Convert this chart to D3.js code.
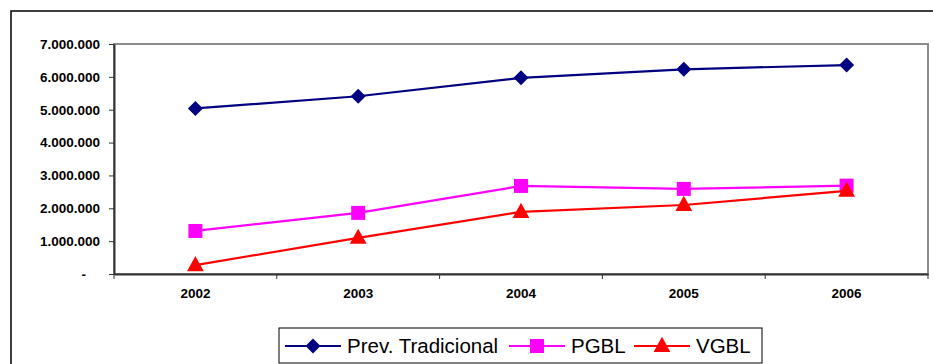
<!DOCTYPE html>
<html><head><meta charset="utf-8">
<script src="https://cdn.jsdelivr.net/npm/d3@7"></script>
<style>body{margin:0;background:#fff}svg{display:block}</style>
</head><body>
<svg id="c" width="933" height="364"></svg>
<script>
const years = ["2002","2003","2004","2005","2006"];
const prevTradicional = [5040000, 5410000, 5970000, 6230000, 6360000];
const pgbl = [1310000, 1860000, 2680000, 2590000, 2690000];
const vgbl = [270000, 1100000, 1890000, 2100000, 2530000];
const yTicks = [0, 1000000, 2000000, 3000000, 4000000, 5000000, 6000000, 7000000];
const seriesNames = ["Prev. Tradicional", "PGBL", "VGBL"];
const seriesColors = ["#000080", "#FF00FF", "#FF0000"];
const seriesSymbols = ["diamond", "square", "triangle"];

const svg = d3.select("#c");
const L = 114, R = 928, T = 44, B = 274;
const x = d3.scaleBand().domain(years).range([L, R]).padding(0);
const y = d3.scaleLinear().domain([0, 7000000]).range([B, T]);

// outer frame
svg.append("rect").attr("x", 11).attr("y", 11).attr("width", 940).attr("height", 400)
  .attr("fill", "none").attr("stroke", "#000").attr("stroke-width", 1.5);

// plot area border (gray)
svg.append("rect").attr("x", L).attr("y", T).attr("width", R - L).attr("height", B - T)
  .attr("fill", "none").attr("stroke", "#8c8c8c").attr("stroke-width", 2);

const fmt = v => v === 0 ? "-" : d3.format(",")(v).replace(/,/g, ".");
const FONT = "Liberation Sans, Arial, sans-serif";

// y axis
const ya = svg.append("g").attr("transform", `translate(${L},0)`)
  .call(d3.axisLeft(y).tickValues(yTicks).tickSize(5).tickSizeOuter(0).tickPadding(9).tickFormat(fmt));
ya.select(".domain").attr("stroke", "#333").attr("stroke-width", 2);
ya.selectAll(".tick line").attr("stroke", "#333").attr("stroke-width", 1);
ya.selectAll(".tick text").attr("font-family", FONT)
  .attr("font-weight", "bold").attr("font-size", 13.5).attr("fill", "#000");
ya.selectAll(".tick").filter(d => d === 0).select("text").attr("dx", -14);

// x axis
const xa = svg.append("g").attr("transform", `translate(0,${B})`)
  .call(d3.axisBottom(x).tickSize(0).tickPadding(14));
xa.select(".domain").attr("stroke", "#333").attr("stroke-width", 2);
xa.selectAll(".tick text").attr("font-family", FONT)
  .attr("font-weight", "bold").attr("font-size", 13.5).attr("fill", "#000");
// boundary tick marks
const bounds = years.map(d => x(d)).concat([R]);
svg.append("g").selectAll("line").data(bounds).join("line")
  .attr("x1", d => d).attr("x2", d => d).attr("y1", B).attr("y2", B + 5)
  .attr("stroke", "#333").attr("stroke-width", 1);

const cx = d => x(d) + x.bandwidth() / 2;
const symGen = {
  diamond: s => `M0,${-s}L${s},0L0,${s}L${-s},0Z`,
  square: s => `M${-s},${-s}H${s}V${s}H${-s}Z`,
  triangle: s => `M0,${-s * 1.15}L${s * 1.05},${s * 0.75}L${-s * 1.05},${s * 0.75}Z`
};
const symSize = {diamond: 7.5, square: 7, triangle: 8};

const data = [prevTradicional, pgbl, vgbl];
data.forEach((vals, i) => {
  const pts = years.map((yr, j) => [cx(yr), y(vals[j])]);
  svg.append("path").attr("d", d3.line()(pts)).attr("fill", "none")
    .attr("stroke", seriesColors[i]).attr("stroke-width", 2.2);
  svg.append("g").selectAll("path").data(pts).join("path")
    .attr("transform", d => `translate(${d[0]},${d[1]})`)
    .attr("d", symGen[seriesSymbols[i]](symSize[seriesSymbols[i]]))
    .attr("fill", seriesColors[i]);
});

// legend
const lg = svg.append("g");
lg.append("rect").attr("x", 279).attr("y", 328).attr("width", 483).attr("height", 35)
  .attr("fill", "#fff").attr("stroke", "#000").attr("stroke-width", 1);
const legX = [285, 509, 634];
const textX = [347, 571, 696];
seriesNames.forEach((n, i) => {
  const ly = 346;
  lg.append("line").attr("x1", legX[i]).attr("x2", legX[i] + 56).attr("y1", ly).attr("y2", ly)
    .attr("stroke", seriesColors[i]).attr("stroke-width", 2.2);
  lg.append("path").attr("transform", `translate(${legX[i] + 28},${ly})`)
    .attr("d", symGen[seriesSymbols[i]](symSize[seriesSymbols[i]]))
    .attr("fill", seriesColors[i]);
  lg.append("text").attr("x", textX[i]).attr("y", 352.5)
    .attr("font-family", FONT).attr("font-size", 20.5)
    .attr("fill", "#000").text(n);
});
</script>
</body></html>
